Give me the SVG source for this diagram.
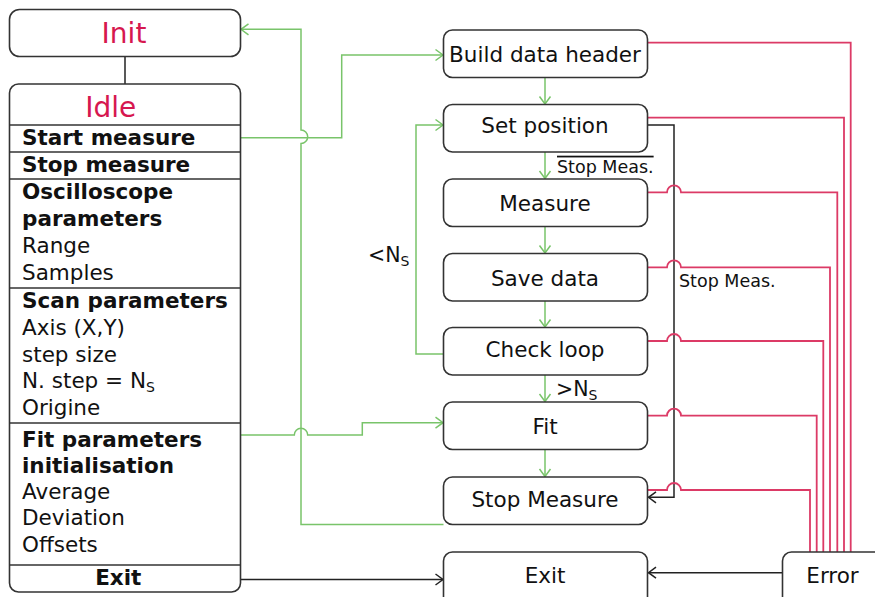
<svg xmlns="http://www.w3.org/2000/svg" width="875" height="597" viewBox="0 0 875 597">
<defs>
<style>
.box{fill:#fff;stroke:#333;stroke-width:1.6}
.sep{stroke:#333;stroke-width:1.6}
.t{font-family:"DejaVu Sans","Noto Sans",sans-serif;font-size:21.5px;fill:#111}
.b{font-weight:bold}
.c{text-anchor:middle}
.red{fill:#d6174f;font-size:28px}
.s{font-size:17.5px}
.lbl{font-size:20.5px}
.sub{font-size:14px}
.g{fill:none;stroke:#79c46a;stroke-width:1.5}
.r{fill:none;stroke:#dc3a66;stroke-width:1.8}
.k{fill:none;stroke:#222;stroke-width:1.5}
</style>
<marker id="ag" markerUnits="userSpaceOnUse" markerWidth="12" markerHeight="14" refX="9" refY="7" orient="auto">
<path d="M1.5,1.5 L9,7 L1.5,12.5" fill="none" stroke="#79c46a" stroke-width="1.5"/>
</marker>
<marker id="ak" markerUnits="userSpaceOnUse" markerWidth="12" markerHeight="14" refX="9" refY="7" orient="auto">
<path d="M1.5,1.5 L9,7 L1.5,12.5" fill="none" stroke="#222" stroke-width="1.5"/>
</marker>
</defs>
<rect width="875" height="597" fill="#fff"/>

<g id="connectors">
<line class="k" x1="125" y1="57" x2="125" y2="84"/>
<path class="g" d="M240.5,137.7 H341.7 V55 H443" marker-end="url(#ag)"/>
<path class="g" d="M240.5,435 H294.3 A6.7,6.7 0 0 1 307.7,435 H362.3 V422.7 H443" marker-end="url(#ag)"/>
<path class="g" d="M443.5,524.5 H301 V143.4 A6.7,6.7 0 0 0 301,130 V29.3 H241" marker-end="url(#ag)"/>
<path class="g" d="M443.5,354 H416 V125 H443" marker-end="url(#ag)"/>
<line class="g" x1="545" y1="77.5" x2="545" y2="104" marker-end="url(#ag)"/>
<line class="g" x1="545" y1="152" x2="545" y2="178.5" marker-end="url(#ag)"/>
<line class="g" x1="545" y1="226.5" x2="545" y2="253" marker-end="url(#ag)"/>
<line class="g" x1="545" y1="301" x2="545" y2="327" marker-end="url(#ag)"/>
<line class="g" x1="545" y1="375" x2="545" y2="401.5" marker-end="url(#ag)"/>
<line class="g" x1="545" y1="449.5" x2="545" y2="476.5" marker-end="url(#ag)"/>
<path class="k" d="M240.5,579.5 H443" marker-end="url(#ak)"/>
<path class="k" d="M782.5,572.7 H648.5" marker-end="url(#ak)"/>
<path class="k" d="M647.5,125 H674 V497.3 H648.5" marker-end="url(#ak)"/>
<path class="r" d="M647.5,42.7 H850.7 V552"/>
<path class="r" d="M647.5,117.7 H844 V552"/>
<path class="r" d="M647.5,192.3 H667 A7,7 0 0 1 681,192.3 H837.3 V552"/>
<path class="r" d="M647.5,267.3 H667 A7,7 0 0 1 681,267.3 H830 V552"/>
<path class="r" d="M647.5,341 H667 A7,7 0 0 1 681,341 H823.3 V552"/>
<path class="r" d="M647.5,415.7 H667 A7,7 0 0 1 681,415.7 H816.7 V552"/>
<path class="r" d="M647.5,490 H667 A7,7 0 0 1 681,490 H810 V552"/>
<text class="t s" x="557" y="172.7" text-decoration="overline">Stop Meas.</text>
<text class="t s" x="679" y="287">Stop Meas.</text>
<text class="t lbl" x="368" y="262">&lt;N<tspan class="sub" dy="4">S</tspan></text>
<text class="t lbl" x="556" y="395.5">&gt;N<tspan class="sub" dy="4">S</tspan></text>
</g>

<g id="init">
<rect class="box" x="9.5" y="9.5" width="231" height="47" rx="10"/>
<text class="t red c" x="124" y="43.3">Init</text>
</g>

<g id="idle">
<rect class="box" x="9.5" y="84" width="231" height="508" rx="9"/>
<line class="sep" x1="9.5" y1="125" x2="240.5" y2="125"/>
<line class="sep" x1="9.5" y1="152" x2="240.5" y2="152"/>
<line class="sep" x1="9.5" y1="179" x2="240.5" y2="179"/>
<line class="sep" x1="9.5" y1="288" x2="240.5" y2="288"/>
<line class="sep" x1="9.5" y1="423" x2="240.5" y2="423"/>
<line class="sep" x1="9.5" y1="565" x2="240.5" y2="565"/>
<text class="t red c" x="110.7" y="117.3">Idle</text>
<text class="t b" x="22" y="145">Start measure</text>
<text class="t b" x="22" y="172">Stop measure</text>
<text class="t b" x="22" y="199">Oscilloscope</text>
<text class="t b" x="22" y="225.7">parameters</text>
<text class="t" x="22" y="253">Range</text>
<text class="t" x="22" y="280">Samples</text>
<text class="t b" x="22" y="307.7">Scan parameters</text>
<text class="t" x="22" y="335">Axis (X,Y)</text>
<text class="t" x="22" y="361.7">step size</text>
<text class="t" x="22" y="388">N. step = N<tspan class="sub" dy="4">S</tspan></text>
<text class="t" x="22" y="415">Origine</text>
<text class="t b" x="22" y="447">Fit parameters</text>
<text class="t b" x="22" y="472.7">initialisation</text>
<text class="t" x="22" y="499">Average</text>
<text class="t" x="22" y="525">Deviation</text>
<text class="t" x="22" y="551.7">Offsets</text>
<text class="t b c" x="118.3" y="585">Exit</text>
</g>

<g id="build">
<rect class="box" x="443.5" y="30" width="204" height="47.5" rx="9"/>
<text class="t c" x="545" y="61.7">Build data header</text>
</g>
<g id="setpos">
<rect class="box" x="443.5" y="104.5" width="204" height="47.5" rx="9"/>
<text class="t c" x="545" y="133.3">Set position</text>
</g>
<g id="measure">
<rect class="box" x="443.5" y="179" width="204" height="47.5" rx="9"/>
<text class="t c" x="545" y="211">Measure</text>
</g>
<g id="save">
<rect class="box" x="443.5" y="253.5" width="204" height="47.5" rx="9"/>
<text class="t c" x="545" y="286">Save data</text>
</g>
<g id="check">
<rect class="box" x="443.5" y="327.5" width="204" height="47.5" rx="9"/>
<text class="t c" x="545" y="357.3">Check loop</text>
</g>
<g id="fit">
<rect class="box" x="443.5" y="402" width="204" height="47.5" rx="9"/>
<text class="t c" x="545" y="434">Fit</text>
</g>
<g id="stop">
<rect class="box" x="443.5" y="477" width="204" height="47.5" rx="9"/>
<text class="t c" x="545" y="506.7">Stop Measure</text>
</g>
<g id="exit">
<rect class="box" x="443.5" y="552" width="204" height="60" rx="9"/>
<text class="t c" x="545" y="583.3">Exit</text>
</g>
<g id="error">
<rect class="box" x="782.5" y="552" width="110" height="60" rx="9"/>
<text class="t c" x="832.5" y="583.3">Error</text>
</g>
</svg>
